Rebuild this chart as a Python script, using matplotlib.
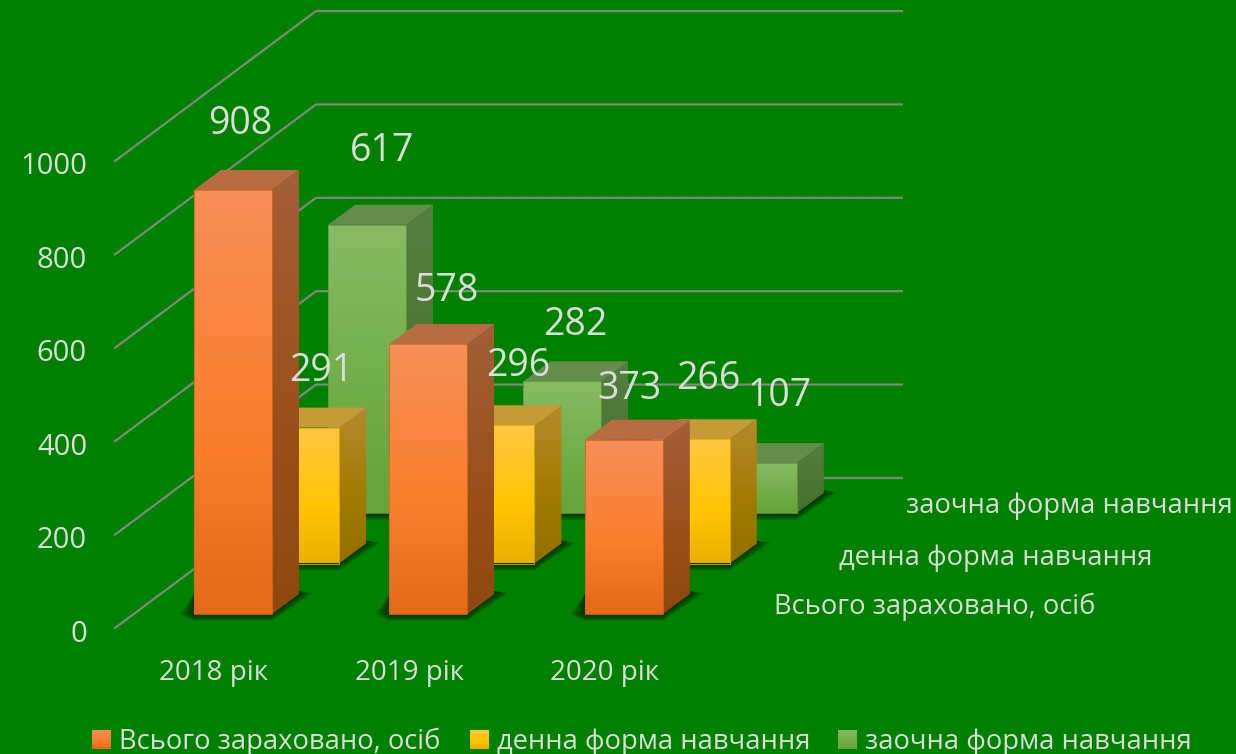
import numpy as np
import matplotlib.pyplot as plt
from matplotlib.colors import LinearSegmentedColormap
from matplotlib.patches import Polygon, Rectangle

categories = ['2018 рік', '2019 рік', '2020 рік']
series_names = ['Всього зараховано, осіб', 'денна форма навчання', 'заочна форма навчання']
total = [908, 578, 373]
full_time = [291, 296, 266]
part_time = [617, 282, 107]
value_ticks = [0, 200, 400, 600, 800, 1000]

W, H = 1236, 754
GREEN = '#008000'
TEXT = '#d9ded6'
FONT = ['Open Sans', 'DejaVu Sans']

# px per unit of the two axes
PX_CAT = 195.4
PX_VAL = 0.467

# colours: front gradient, side gradient, top face, edge
styles = [
    (['#f68f58', '#fa7e2b', '#e46a17'], ['#a35f38', '#9a4f1a', '#8f4810'], '#b96c44', '#d0681f'),
    (['#ffc843', '#ffc400', '#e9b000'], ['#b48a2c', '#a07a00', '#937000'], '#c49b36', '#e0ad08'),
    (['#88bb64', '#70ad47', '#66a33a'], ['#557f40', '#4c7533', '#47702e'], '#658c4d', '#62993c'),
]

fig = plt.figure(figsize=(W / 100, H / 100), dpi=100, facecolor=GREEN)
ax = fig.add_axes([0, 0, 1, 1], facecolor=GREEN)
# x in category units (bar 0 left edge at 194 px), y in value units (front floor at 614 px)
ax.set_xlim(-194 / PX_CAT, (W - 194) / PX_CAT)
ax.set_ylim((614 - H) / PX_VAL, 614 / PX_VAL)
ax.axis('off')
ax.set_autoscale_on(False)

BAR_W = 78 / PX_CAT
DEPTH_X = 27 / PX_CAT
DEPTH_Y = 20 / PX_VAL
STEP_X = 67.0 / PX_CAT
STEP_Y = 50.5 / PX_VAL


def px(x, y):
    return (x - 194) / PX_CAT, (614 - y) / PX_VAL


def grad_poly(points, colors, zorder):
    points = np.array(points)
    cmap = LinearSegmentedColormap.from_list('g', list(zip([0, 0.6, 1], colors)))
    box = (points[:, 0].min(), points[:, 0].max(), points[:, 1].min(), points[:, 1].max())
    im = ax.imshow(np.linspace(0, 1, 256).reshape(-1, 1), extent=box, origin='upper',
                   cmap=cmap, aspect='auto', zorder=zorder, interpolation='bilinear')
    clip = Polygon(points, closed=True, transform=ax.transData, fc='none', ec='none')
    ax.add_patch(clip)
    im.set_clip_path(clip)


def draw_bar(cat, ser, value, style, z):
    front, side, top, edge = style
    x0 = cat + ser * STEP_X
    x1 = x0 + BAR_W
    y0 = ser * STEP_Y
    y1 = y0 + value
    dx, dy = DEPTH_X, DEPTH_Y

    # soft shadow on the floor, darkest next to the bar
    for i in range(8):
        g = (7 - i) * 2.0
        gx, gy = g / PX_CAT, g * 0.5 / PX_VAL
        shadow = [(x0 - g / PX_CAT, y0), (x0, y0 - gy), (x1, y0 - gy),
                  (x1 + dx + gx, y0 + dy + 1 / PX_VAL), (x1 + dx, y0 + dy + 3 / PX_VAL),
                  (x0, y0 + dy)]
        ax.add_patch(Polygon(shadow, closed=True, fc='#002000', ec='none', alpha=0.17, zorder=z))

    grad_poly([(x1, y0), (x1 + dx, y0 + dy), (x1 + dx, y1 + dy), (x1, y1)], side, z + 0.1)
    ax.add_patch(Polygon([(x0, y1), (x1, y1), (x1 + dx, y1 + dy), (x0 + dx, y1 + dy)],
                         closed=True, fc=top, ec='none', zorder=z + 0.2))
    grad_poly([(x0, y0), (x1, y0), (x1, y1), (x0, y1)], front, z + 0.3)
    ax.add_patch(Rectangle((x0, y0), BAR_W, value, fc='none', ec=edge, lw=0.6, zorder=z + 0.4))


# back wall and floor lines
WALL_X0, WALL_X1, WALL_END = 115, 316, 902
FLOOR_Y0, FLOOR_Y1 = 628, 478
for v in value_ticks:
    xs = [px(WALL_X0, 0)[0], px(WALL_X1, 0)[0], px(WALL_END, 0)[0]]
    y_front = px(0, FLOOR_Y0)[1] + v
    y_back = px(0, FLOOR_Y1)[1] + v
    ax.plot(xs, [y_front, y_back, y_back], color='#7f8b7a', lw=1.6, zorder=1)
    ax.text(px(87, 0)[0], y_front - 6 / PX_VAL, str(v), ha='right', va='center', color=TEXT,
            fontsize=21, family=FONT, zorder=30)

series = [total, full_time, part_time]
for ser in [2, 1, 0]:
    for cat in range(len(categories)):
        draw_bar(cat, ser, series[ser][cat], styles[ser], 5 + (2 - ser) * 3 + cat * 0.5)

# value labels, placed by hand as in the source
label_px = [[(240, 124), (447, 291), (629, 389)],
            [(321, 371), (518, 366), (708, 379)],
            [(382, 151), (575, 325), (780, 396)]]
for ser in range(3):
    for cat in range(3):
        lx, ly = px(*label_px[ser][cat])
        ax.text(lx, ly, str(series[ser][cat]), ha='center', va='center', color=TEXT,
                fontsize=27, family=FONT, zorder=31)

for cat, name in enumerate(categories):
    lx, ly = px(214 + cat * PX_CAT, 673)
    ax.text(lx, ly, name, ha='center', va='center', color=TEXT, fontsize=20, family=FONT, zorder=30)

# series names along the depth axis
depth_left = [(774, 607), (839, 558), (906, 506)]
for name, (tx, ty) in zip(series_names, depth_left):
    lx, ly = px(tx, ty)
    ax.text(lx, ly, name, ha='left', va='center', color=TEXT, fontsize=19.7, family=FONT, zorder=30)

# legend
legend_x = [92, 470, 838]
for i, name in enumerate(series_names):
    sx = legend_x[i]
    corners = [px(sx, 749), px(sx + 19, 749), px(sx + 19, 730), px(sx, 730)]
    grad_poly(corners, styles[i][0], 30)
    lx, ly = px(sx + 27, 742)
    ax.text(lx, ly, name, ha='left', va='center', color=TEXT, fontsize=19.7, family=FONT, zorder=30)

fig.savefig('out.png', dpi=100, facecolor=GREEN)
